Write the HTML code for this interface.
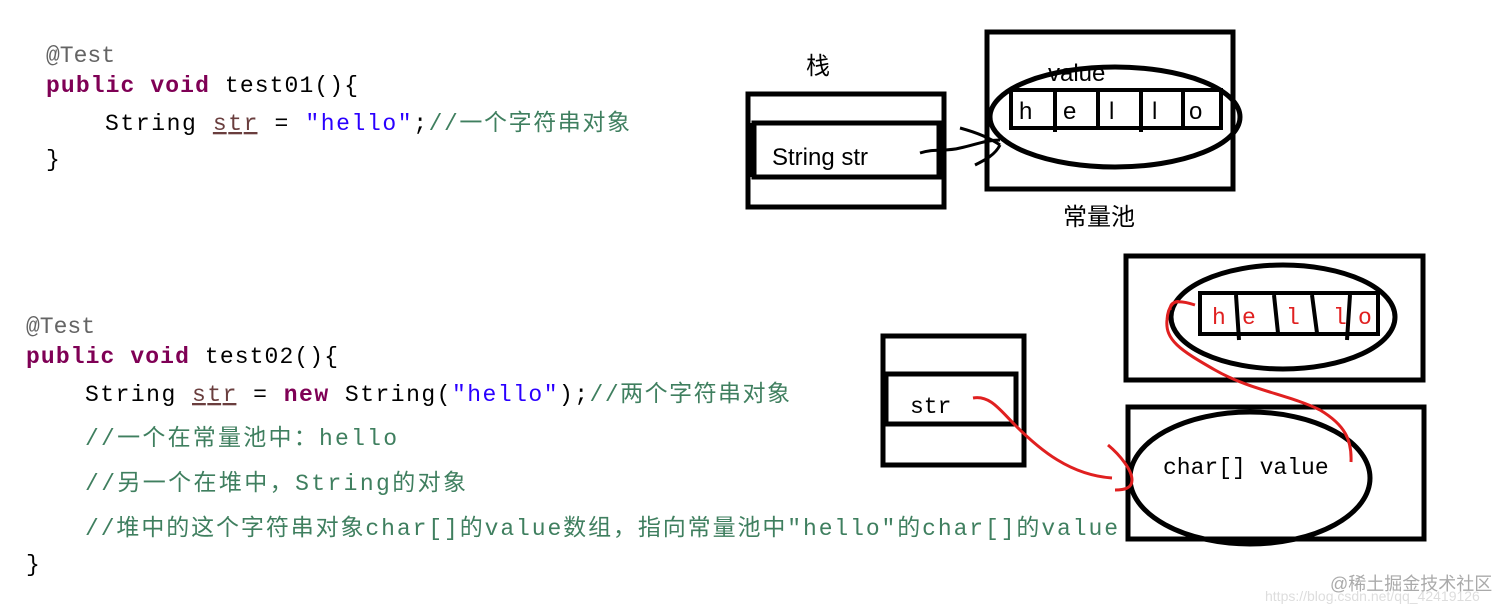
<!DOCTYPE html>
<html><head><meta charset="utf-8"><style>
body{margin:0;background:#fff;}
svg{display:block}
.c{font-family:"Liberation Mono","Noto Sans CJK SC",monospace;font-size:23px;}
.k{fill:#7f0055;font-weight:bold}
.a{fill:#646464}
.s{fill:#2a00ff}
.g{fill:#3f7f5f}
.t{fill:#000}
.d{font-family:"Liberation Sans","Noto Sans CJK SC",sans-serif;}
</style></head><body>
<svg width="1512" height="612" viewBox="0 0 1512 612" xmlns="http://www.w3.org/2000/svg">
<g class="c">
<text x="46" y="62" class="a">@Test</text>
<text x="46" y="92" textLength="312"><tspan class="k">public void</tspan><tspan class="t"> test01(){</tspan></text>
<text x="105" y="130" textLength="525"><tspan class="t">String </tspan><tspan fill="#6a3e3e" text-decoration="underline">str</tspan><tspan class="t"> = </tspan><tspan class="s">"hello"</tspan><tspan class="t">;</tspan><tspan class="g">//一个字符串对象</tspan></text>
<text x="46" y="166" class="t">}</text>

<text x="26" y="333" class="a">@Test</text>
<text x="26" y="363" textLength="312"><tspan class="k">public void</tspan><tspan class="t"> test02(){</tspan></text>
<text x="85" y="401" textLength="705"><tspan class="t">String </tspan><tspan fill="#6a3e3e" text-decoration="underline">str</tspan><tspan class="t"> = </tspan><tspan class="k">new</tspan><tspan class="t"> String(</tspan><tspan class="s">"hello"</tspan><tspan class="t">);</tspan><tspan class="g">//两个字符串对象</tspan></text>
<text x="85" y="445" class="g" textLength="312">//一个在常量池中：hello</text>
<text x="85" y="490" class="g" textLength="381">//另一个在堆中，String的对象</text>
<text x="85" y="535" class="g" textLength="1033">//堆中的这个字符串对象char[]的value数组，指向常量池中"hello"的char[]的value</text>
<text x="26" y="571" class="t">}</text>
</g>

<!-- top diagram -->
<g fill="none" stroke="#000" stroke-width="5">
<rect x="748" y="94" width="196" height="113"/>
<rect x="754" y="123" width="185" height="54"/>
<line x1="751" y1="123" x2="751" y2="177" stroke-width="6"/>
<rect x="987" y="32" width="246" height="157"/>
<ellipse cx="1115" cy="117" rx="125" ry="50"/>
<rect x="1011" y="90" width="210" height="38" stroke-width="4"/>
<line x1="1055" y1="90" x2="1055" y2="132" stroke-width="4"/>
<line x1="1098" y1="90" x2="1098" y2="130" stroke-width="4"/>
<line x1="1141" y1="90" x2="1141" y2="132" stroke-width="4"/>
<line x1="1183" y1="90" x2="1183" y2="130" stroke-width="4"/>
<path d="M920 153 C935 148 945 152 960 148 C975 145 985 140 1000 140 M960 128 C975 132 990 138 1000 145 M975 165 C985 160 995 155 1000 145" stroke-width="3"/>
</g>
<g class="d" font-size="24" fill="#000">
<text x="806" y="74">栈</text>
<text x="1048" y="81">value</text>
<text x="1019" y="119">h</text><text x="1063" y="119">e</text><text x="1109" y="119">l</text><text x="1152" y="119">l</text><text x="1189" y="119">o</text>
<text x="772" y="165">String  str</text>
<text x="1063" y="225">常量池</text>
</g>

<!-- bottom diagram -->
<g fill="none" stroke="#000" stroke-width="5">
<rect x="883" y="336" width="141" height="129"/>
<rect x="886" y="374" width="130" height="50"/>
<rect x="1126" y="256" width="297" height="124"/>
<ellipse cx="1283" cy="317" rx="112" ry="52"/>
<rect x="1200" y="293" width="178" height="41" stroke-width="4"/>
<path d="M1236 295 L1239 340 M1274 295 L1278 333 M1312 295 L1317 333 M1350 295 L1347 340" stroke-width="4"/>
<rect x="1128" y="407" width="296" height="132"/>
<ellipse cx="1250" cy="478" rx="120" ry="66"/>
</g>
<g stroke="#e02020" stroke-width="3" fill="none">
<path d="M973 398 C990 395 1000 410 1015 425 C1040 450 1070 475 1112 478"/>
<path d="M1108 445 C1120 455 1132 470 1132 480 C1132 488 1125 490 1115 490"/>
<path d="M1351 462 C1352 440 1345 425 1320 410 C1290 395 1250 390 1215 370 C1180 350 1165 340 1167 320 C1168 305 1175 300 1180 302 M1170 310 C1170 300 1180 300 1195 305"/>
</g>
<g class="c" font-size="22">
<text x="910" y="413" fill="#000">str</text>
<text x="1163" y="474" fill="#000">char[] value</text>
<g fill="#e02020"><text x="1212" y="324">h</text><text x="1242" y="324">e</text><text x="1286" y="324">l</text><text x="1333" y="324">l</text><text x="1358" y="324">o</text></g>
</g>
<text x="1330" y="590" class="d" font-size="18" fill="#aaa">@稀土掘金技术社区</text>
<text x="1265" y="601" class="d" font-size="14" fill="#ddd">https://blog.csdn.net/qq_42419126</text>
</svg>
</body></html>
